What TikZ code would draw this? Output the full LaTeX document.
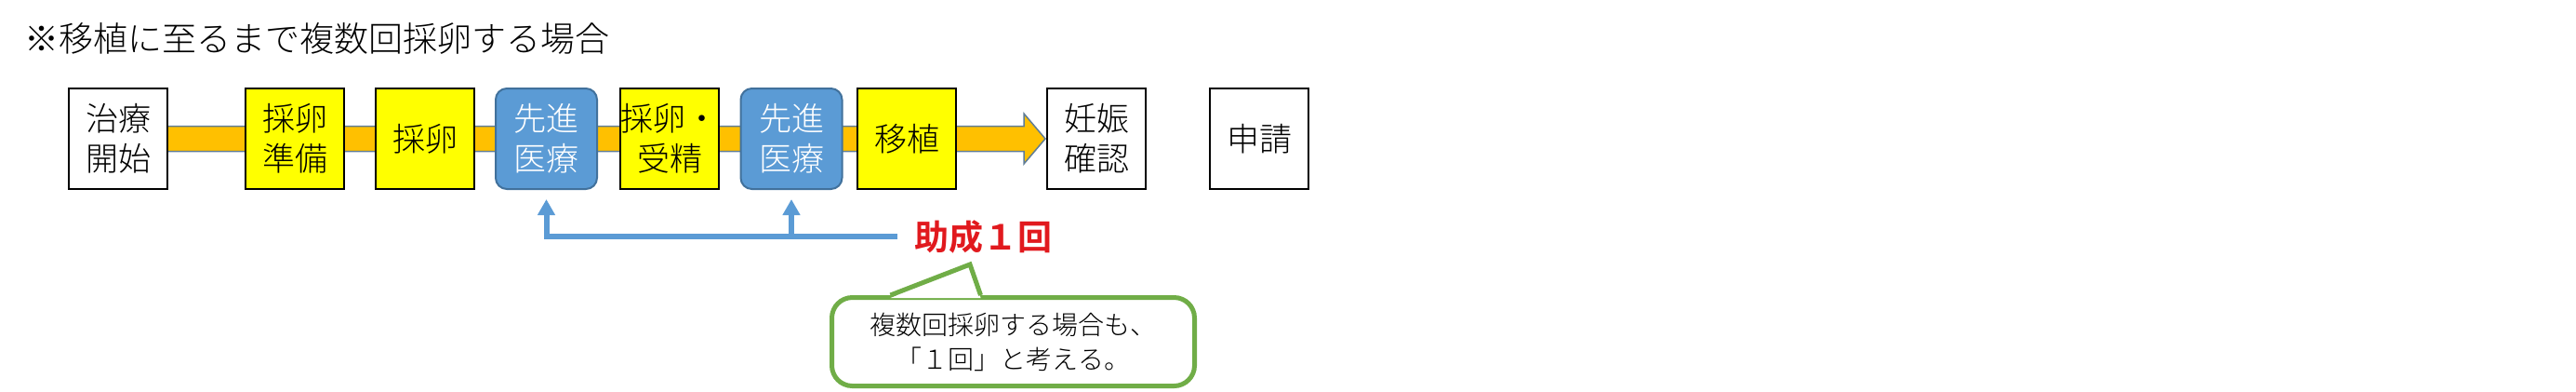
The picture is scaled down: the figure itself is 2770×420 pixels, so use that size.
\documentclass[tikz,border=0pt]{standalone}
\usepackage{fontspec}
\setmainfont{Noto Sans CJK JP Light}[BoldFont={Noto Sans CJK JP Bold}]
\usetikzlibrary{arrows.meta,backgrounds,calc}
\definecolor{boxyellow}{RGB}{255,255,0}
\definecolor{advfill}{RGB}{91,155,213}
\definecolor{advline}{RGB}{65,113,156}
\definecolor{barfill}{RGB}{255,192,0}
\definecolor{barline}{RGB}{96,125,150}
\definecolor{jored}{RGB}{225,25,30}
\definecolor{callgreen}{RGB}{112,173,71}
\tikzset{
  stepbox/.style={draw=black, line width=1pt, minimum width=53pt, minimum height=54pt,
    inner sep=0pt, align=center, font=\fontsize{17.5pt}{21.5pt}\selectfont},
  plainbox/.style={stepbox, fill=white},
  eggbox/.style={stepbox, fill=boxyellow},
  advbox/.style={stepbox, draw=advline, fill=advfill, rounded corners=6pt, text=white, minimum width=54.5pt},
  bar/.style={fill=barfill, draw=barline, line width=0.75pt, line join=miter},
  bluearr/.style={draw=advfill, line width=3pt, -{Triangle[width=9pt,length=8.5pt]}},
  callout/.style={draw=callgreen, line width=2.5pt, rounded corners=11pt, fill=white,
    minimum width=195pt, minimum height=47.5pt, inner sep=0pt, align=center,
    font=\fontsize{14pt}{18.5pt}\selectfont},
  titletext/.style={anchor=west, inner sep=0pt, font=\fontsize{18.5pt}{22pt}\selectfont},
  jotext/.style={anchor=west, inner sep=0pt, text=jored, font=\fontsize{18.5pt}{22pt}\selectfont\bfseries}
}
\begin{document}
\begin{tikzpicture}[x=0.5pt, y=-0.5pt]
\useasboundingbox (0,0) rectangle (2770,420);
\node[titletext] (title) at (26,42) {※移植に至るまで複数回採卵する場合};
\node[plainbox] (start) at (127,149) {治療\\開始};
\node[eggbox] (prep) at (317,149) {採卵\\準備};
\node[eggbox] (egg) at (457,149) {採卵};
\node[advbox] (adv1) at (587.5,149) {先進\\医療};
\node[eggbox] (fert) at (720,149) {採卵・\\受精};
\node[advbox] (adv2) at (851,149) {先進\\医療};
\node[eggbox] (trans) at (975,149) {移植};
\node[plainbox] (preg) at (1179,149) {妊娠\\確認};
\node[plainbox] (apply) at (1354,149) {申請};
\begin{pgfonlayer}{background}
\draw[bar] ($(start.center)+(0,-13.5)$) -- ($(preg.west)+(-24,-13.5)$)
  -- ($(preg.west)+(-24,-27)$) -- ($(preg.west)+(-1,0)$)
  -- ($(preg.west)+(-24,27)$) -- ($(preg.west)+(-24,13.5)$)
  -- ($(start.center)+(0,13.5)$) -- cycle;
\end{pgfonlayer}
\node[jotext] (jo) at (983,254) {助成１回};
\draw[bluearr, shorten <=9pt] (jo.west) -| ($(adv1.south)+(0,10)$);
\draw[bluearr] (adv2.south |- jo.west) -- ($(adv2.south)+(0,10)$);
\node[callout] (note) at (1089.5,367) {複数回採卵する場合も、\\「１回」と考える。};
\coordinate (pl) at ($(note.north west)+(65.5,0)$);
\coordinate (pr) at ($(note.north west)+(162.5,0)$);
\coordinate (tip) at (1043,284);
\fill[white] ($(pl)+(0,3)$) -- (tip) -- ($(pr)+(0,3)$) -- cycle;
\draw[callgreen, line width=2.5pt, line join=miter] (pl) -- (tip) -- (pr);
\end{tikzpicture}
\end{document}
